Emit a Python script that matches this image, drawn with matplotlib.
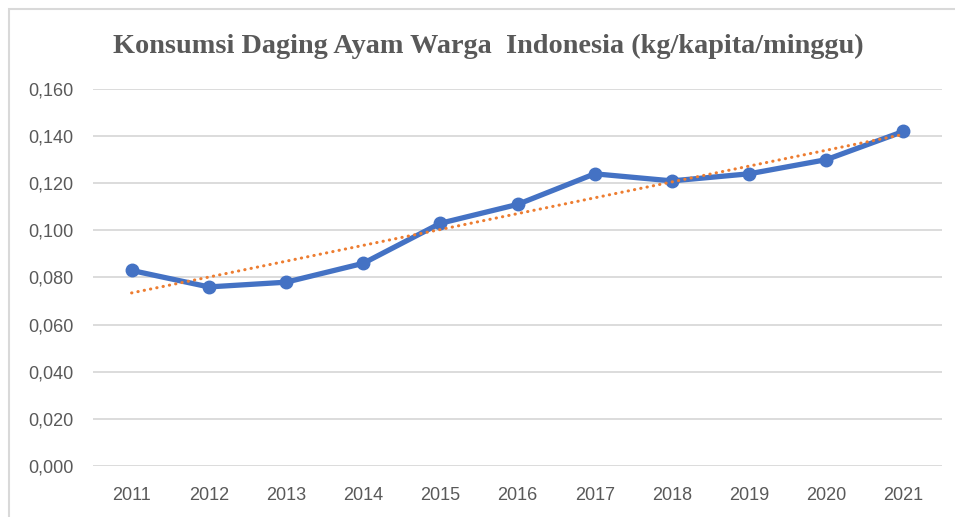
import numpy as np
import matplotlib
matplotlib.use('Agg')
import matplotlib.pyplot as plt
from matplotlib.patches import Rectangle
from matplotlib.ticker import FuncFormatter


### DATA ###

years = ['2011', '2012', '2013', '2014', '2015', '2016',
         '2017', '2018', '2019', '2020', '2021']
konsumsi = [0.083, 0.076, 0.078, 0.086, 0.103, 0.111,
            0.124, 0.121, 0.124, 0.130, 0.142]
y_ticks = [0.000, 0.020, 0.040, 0.060, 0.080, 0.100, 0.120, 0.140, 0.160]
title = 'Konsumsi Daging Ayam Warga  Indonesia (kg/kapita/minggu)'


### STYLE ###

blue = '#4472C4'
orange = '#ED7D31'
grey_txt = '#595959'
grid_col = '#D9D9D9'


def comma_fmt(v, pos):
    """ excel-ish indonesian decimal format """
    return '{:.3f}'.format(v).replace('.', ',')


fig = plt.figure(figsize=(9.55, 5.17), dpi=100)
ax = fig.add_axes([0.0974, 0.0986, 0.8890, 0.7293])

# chart border (runs off the right/bottom of the crop)
fig.patches.append(Rectangle((9 / 955, -0.05), 1.1, 1 - 9 / 517 + 0.05,
                             transform=fig.transFigure, fill=False,
                             edgecolor='#D9D9D9', linewidth=1.5))

x = np.arange(len(years))
ax.plot(x, konsumsi, color=blue, linewidth=3.8, marker='o',
        markersize=9, solid_joinstyle='round', zorder=3)

# linear trendline
coef = np.polyfit(x, konsumsi, 1)
ax.plot(x, np.polyval(coef, x), color=orange, linewidth=2.2,
        linestyle=(0, (0.1, 2.0)), dash_capstyle='round', zorder=4)

ax.set_xlim(-0.5, len(years) - 0.5)
ax.set_ylim(y_ticks[0], y_ticks[-1])
ax.set_xticks(x)
ax.set_xticklabels(years)
ax.set_yticks(y_ticks)
ax.yaxis.set_major_formatter(FuncFormatter(comma_fmt))

ax.grid(axis='y', color=grid_col, linewidth=1.3)
ax.set_axisbelow(True)
for s in ax.spines.values():
    s.set_visible(False)
ax.tick_params(length=0, labelsize=13, labelcolor=grey_txt)
ax.tick_params(axis='y', pad=14)
ax.tick_params(axis='x', pad=15)
for lab in ax.get_xticklabels() + ax.get_yticklabels():
    lab.set_family('Liberation Sans')

fig.text(0.511, 1 - 46 / 517, title, ha='center', va='center',
         family='Liberation Serif', fontweight='bold', fontsize=20.3,
         color=grey_txt)

fig.savefig('out.png', dpi=100)
